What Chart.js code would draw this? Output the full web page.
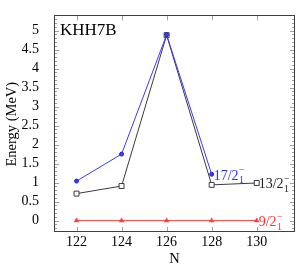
<!DOCTYPE html>
<html>
<head>
<meta charset="utf-8">
<script src="https://cdn.jsdelivr.net/npm/chart.js@4/dist/chart.umd.min.js"></script>
<style>
html,body{margin:0;padding:0;background:#fff;}
canvas{display:block;}
</style>
</head>
<body>
<canvas id="c" width="300" height="272"></canvas>
<script>
const neutronNumbers = [122, 124, 126, 128, 130];
const energy17 = [1.04, 1.75, 4.89, 1.22, null];
const energy13 = [0.71, 0.91, 4.88, 0.94, 0.99];
const energy9 = [0, 0, 0, 0, 0];
const xTicks = [122, 124, 126, 128, 130];
const yTicks = [0, 0.5, 1, 1.5, 2, 2.5, 3, 3.5, 4, 4.5, 5];
const stateLabels = [
  {main: '17/2', sub: '1', sup: '\u2212', series: energy17, index: 3, color: '#2f2fff'},
  {main: '13/2', sub: '1', sup: '\u2212', series: energy13, index: 4, color: '#222222'},
  {main: '9/2', sub: '1', sup: '\u2212', series: energy9, index: 4, color: '#ff2f2f'}
];
const FONT = '"Liberation Serif", "DejaVu Serif", serif';

function pts(arr){ return neutronNumbers.map((n,i)=> arr[i]===null ? null : {x:n, y:arr[i]}).filter(p=>p); }

const decor = {
  id: 'decor',
  afterDraw(chart){
    const ctx = chart.ctx, a = chart.chartArea, xs = chart.scales.x, ys = chart.scales.y;
    ctx.save();
    // ticks
    ctx.strokeStyle = '#a0a0a0';
    ctx.lineWidth = 1;
    xTicks.forEach(v=>{
      const px = Math.round(xs.getPixelForValue(v)) + 0.5;
      ctx.beginPath(); ctx.moveTo(px, a.bottom); ctx.lineTo(px, a.bottom-5); ctx.stroke();
      ctx.beginPath(); ctx.moveTo(px, a.top); ctx.lineTo(px, a.top+5); ctx.stroke();
    });
    const majorStep = yTicks[1]-yTicks[0];
    for (let k = -3; k <= 54; k++){
      const v = k/10;
      const py = Math.round(ys.getPixelForValue(v)) + 0.5;
      if (py < a.top || py > a.bottom) continue;
      const isMajor = Math.abs(v/majorStep - Math.round(v/majorStep)) < 1e-6 && v>=0 && v<=5;
      const len = isMajor ? 5 : 3;
      ctx.beginPath(); ctx.moveTo(a.left, py); ctx.lineTo(a.left+len, py); ctx.stroke();
      ctx.beginPath(); ctx.moveTo(a.right, py); ctx.lineTo(a.right-len, py); ctx.stroke();
    }
    // frame
    ctx.strokeStyle = '#404040';
    ctx.lineWidth = 1;
    ctx.strokeRect(Math.round(a.left)+0.5, Math.round(a.top)+0.5, Math.round(a.right-a.left)-1, Math.round(a.bottom-a.top)-1);
    // axis titles
    ctx.fillStyle = '#000';
    ctx.font = '14.5px ' + FONT;
    ctx.textAlign = 'center'; ctx.textBaseline = 'middle';
    ctx.save();
    ctx.translate(12.5, (a.top+a.bottom)/2 + 0.5);
    ctx.rotate(-Math.PI/2);
    ctx.fillText('Energy (MeV)', 0, 0);
    ctx.restore();
    ctx.textBaseline = 'alphabetic';
    ctx.fillText('N', (a.left+a.right)/2, 263);
    // panel title
    ctx.textAlign = 'left'; ctx.textBaseline = 'alphabetic';
    ctx.font = '17px ' + FONT;
    ctx.fillText('KHH7B', a.left+6, 35);
    // state labels
    stateLabels.forEach(l=>{
      const px = xs.getPixelForValue(neutronNumbers[l.index]);
      const py = ys.getPixelForValue(l.series[l.index]);
      ctx.fillStyle = l.color;
      ctx.font = '14px ' + FONT;
      const x0 = px + 2, base = py + 5.5;
      ctx.fillText(l.main, x0, base);
      const w = ctx.measureText(l.main).width;
      ctx.font = '10px ' + FONT;
      ctx.fillText(l.sup, x0 + w + 0.5, py - 1);
      ctx.fillText(l.sub, x0 + w + 0.5, py + 9);
    });
    // x tick labels
    ctx.fillStyle = '#000';
    ctx.font = '14px ' + FONT;
    ctx.textAlign = 'center'; ctx.textBaseline = 'alphabetic';
    xTicks.forEach(v=>{
      ctx.fillText(String(v), xs.getPixelForValue(v), 245.5);
    });
    ctx.restore();
  }
};

new Chart(document.getElementById('c'), {
  type: 'line',
  data: {
    datasets: [
      {data: pts(energy17), borderColor: '#3a3aff', backgroundColor: '#3a3aff', borderWidth: 1,
       pointStyle: 'circle', pointRadius: 2, pointBorderWidth: 1, pointBorderColor: '#2020e0', pointBackgroundColor: '#3a3aff'},
      {data: pts(energy13), borderColor: '#3a3a3a', backgroundColor: '#fff', borderWidth: 1,
       pointStyle: 'rect', pointRadius: 3.5, pointBorderWidth: 1, pointBorderColor: '#3a3a3a', pointBackgroundColor: '#fff'},
      {data: pts(energy9), borderColor: '#ff4040', backgroundColor: '#ff4040', borderWidth: 1,
       pointStyle: 'triangle', pointRadius: 2.8, pointBorderWidth: 0.5, pointBorderColor: '#ff4040', pointBackgroundColor: '#ff4040'}
    ]
  },
  options: {
    responsive: false,
    animation: false,
    devicePixelRatio: 1,
    layout: {padding: {left: 0, right: 4, top: 4, bottom: 0}},
    plugins: {legend: {display: false}, tooltip: {enabled: false}},
    elements: {line: {tension: 0}},
    scales: {
      x: {
        type: 'linear', min: 121, max: 131.7,
        grid: {display: false}, border: {display: false},
        afterBuildTicks: s => { s.ticks = xTicks.map(v=>({value: v})); },
        afterFit: s => { s.height = 40; },
        ticks: {display: false}
      },
      y: {
        type: 'linear', min: -0.3, max: 5.4,
        grid: {display: false}, border: {display: false},
        afterBuildTicks: s => { s.ticks = yTicks.map(v=>({value: v})); },
        afterFit: s => { s.width = 54; },
        ticks: {padding: 7, color: '#000', font: {family: FONT, size: 14}, callback: v => String(v), autoSkip: false}
      }
    }
  },
  plugins: [decor]
});
</script>
</body>
</html>
